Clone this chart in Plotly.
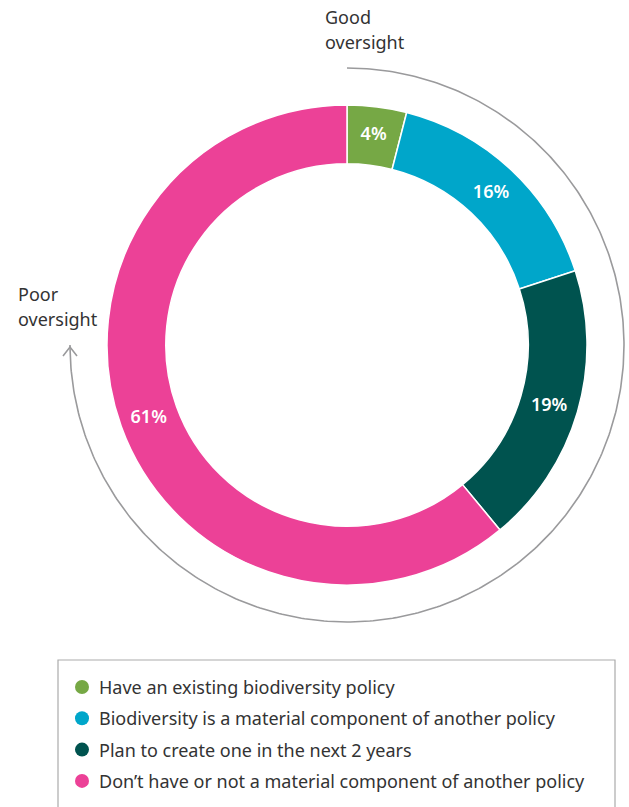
import numpy as np
import plotly.graph_objects as go

# Survey shares (percent), in clockwise order from 12 o'clock
categories = [
    "Have an existing biodiversity policy",
    "Biodiversity is a material component of another policy",
    "Plan to create one in the next 2 years",
    "Don’t have or not a material component of another policy",
]
shares = [4, 16, 19, 61]
colors = ["#76A845", "#00A6CA", "#00534F", "#EC4197"]

W, H = 629, 807
cx, cy = 347, 345          # donut centre (px)
r_outer = 240
hole = 0.755
r_arc = 277                # oversight arc radius
font = "Noto Sans"
text_col = "#333333"
arc_col = "#9A9A9C"

fig = go.Figure()

fig.add_trace(go.Pie(
    labels=categories,
    values=shares,
    sort=False,
    direction="clockwise",
    rotation=0,
    hole=hole,
    marker=dict(colors=colors, line=dict(color="white", width=1.5)),
    texttemplate="%{value}%",
    textposition="inside",
    insidetextorientation="horizontal",
    textfont=dict(family=font, size=18, color="white", weight=600),
    showlegend=False,
    hoverinfo="label+value",
    domain=dict(
        x=[(cx - r_outer) / W, (cx + r_outer) / W],
        y=[1 - (cy + r_outer) / H, 1 - (cy - r_outer) / H],
    ),
))

# Oversight arc: from the top, clockwise round to 9 o'clock
theta = np.linspace(0, 1.5 * np.pi, 400)
fig.add_trace(go.Scatter(
    x=cx + r_arc * np.sin(theta),
    y=cy - r_arc * np.cos(theta),
    mode="lines",
    line=dict(color=arc_col, width=1.6),
    hoverinfo="skip",
    showlegend=False,
))
# open arrowhead at the end of the arc, pointing up
tip_x, tip_y = cx - r_arc, cy + 2
fig.add_trace(go.Scatter(
    x=[tip_x - 7, tip_x, tip_x + 7],
    y=[tip_y + 9, tip_y, tip_y + 9],
    mode="lines",
    line=dict(color=arc_col, width=1.6),
    hoverinfo="skip",
    showlegend=False,
))

# Legend box
leg_left, leg_top, leg_right = 58, 660, 615
row0, row_step = 687, 31.3
fig.add_shape(type="rect", xref="x", yref="y",
              x0=leg_left, y0=leg_top, x1=leg_right, y1=H + 20,
              line=dict(color="#ABABAB", width=1.2), fillcolor="rgba(0,0,0,0)")
rows = [row0 + i * row_step for i in range(len(categories))]
fig.add_trace(go.Scatter(
    x=[82] * len(categories), y=rows, mode="markers",
    marker=dict(color=colors, size=14, line=dict(width=0)),
    hoverinfo="skip", showlegend=False,
))
annotations = []
for label, yy in zip(categories, rows):
    annotations.append(dict(x=97, y=yy, xref="x", yref="y", text=label,
                            showarrow=False, xanchor="left", yanchor="middle",
                            font=dict(family=font, size=18, color=text_col)))

# Arc end labels
for txt, xx, yy in [("Good", 323, 17), ("oversight", 323, 42),
                    ("Poor", 16, 294), ("oversight", 16, 319)]:
    annotations.append(dict(x=xx, y=yy, xref="x", yref="y", text=txt,
                            showarrow=False, xanchor="left", yanchor="middle",
                            font=dict(family=font, size=18, color=text_col)))

fig.update_layout(
    width=W, height=H,
    margin=dict(l=0, r=0, t=0, b=0),
    paper_bgcolor="white", plot_bgcolor="white",
    xaxis=dict(range=[0, W], visible=False, fixedrange=True),
    yaxis=dict(range=[H, 0], visible=False, fixedrange=True),
    annotations=annotations,
    showlegend=False,
)

fig.write_html("out.html")
